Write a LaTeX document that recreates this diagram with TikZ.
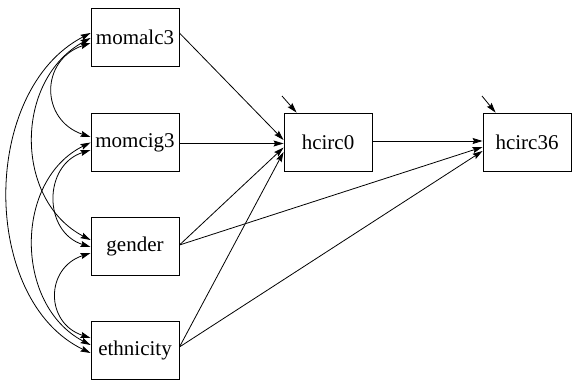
\documentclass[tikz,border=0pt]{standalone}
\usepackage{fontspec}
\newfontfamily\tnr{LiberationSerif}[Extension=.ttf,UprightFont=*-Regular,BoldFont=*-Bold]
\usetikzlibrary{arrows.meta,calc}
\begin{document}
\begin{tikzpicture}[x=1pt,y=-1pt,
  var/.style={draw,line width=0.9pt,rectangle,minimum width=88pt,minimum height=58pt,inner sep=0pt,font=\tnr\fontsize{21}{24}\selectfont},
  path/.style={line width=0.8pt,-{Stealth[length=10pt,width=6pt,inset=1.5pt]}},
  cov/.style={line width=0.8pt,{Stealth[length=10pt,width=6pt,inset=1.5pt]}-{Stealth[length=10pt,width=6pt,inset=1.5pt]}}]
\useasboundingbox (0,0) rectangle (572,380);
\node[var] (A) at (135,37) {momalc3};
\node[var] (B) at (135,142.5) {momcig3};
\node[var] (C) at (135,246) {gender};
\node[var] (D) at (135,350) {ethnicity};
\node[var] (H0) at (328,142) {hcirc0};
\node[var] (H36) at (527,142) {hcirc36};
% regressions
\draw[path] ([yshift=4]A.east) -- ([yshift=2]H0.west);
\draw[path] ([yshift=-1]B.east) -- ([yshift=-1.5]H0.west);
\draw[path] ([yshift=1]C.east) -- ([yshift=-5.5]H0.west);
\draw[path] ([yshift=3]D.east) -- ([yshift=-10]H0.west);
\draw[path] ([yshift=1]H0.east) -- ([yshift=1]H36.west);
\draw[path] ([yshift=1]C.east) -- ([yshift=-5]H36.west);
\draw[path] ([yshift=3]D.east) -- ([yshift=-9]H36.west);
% residuals
\coordinate (r0) at (282,96);
\coordinate (r36) at (482,96);
\draw[path] (r0) -- ([xshift=13pt]H0.north west);
\draw[path] (r36) -- ([xshift=13pt]H36.north west);
% covariances
\draw[cov] ([yshift=-6]A.west) .. controls (40,60) and (40,120) .. ([yshift=5.5]B.west);
\draw[cov] ([yshift=-1]A.west) .. controls (14,80) and (14,200) .. ([yshift=6]C.west);
\draw[cov] ([yshift=4]A.west) .. controls (-20,90) and (-20,300) .. ([yshift=-3]D.west);
\draw[cov] ([yshift=-7.5]B.west) .. controls (43,165) and (43,232) .. ([yshift=-1]C.west);
\draw[cov] ([yshift=0]B.west) .. controls (14,180) and (14,305) .. ([yshift=5]D.west);
\draw[cov] ([yshift=-7]C.west) .. controls (45,268) and (45,323) .. ([yshift=12]D.west);
\end{tikzpicture}
\end{document}
